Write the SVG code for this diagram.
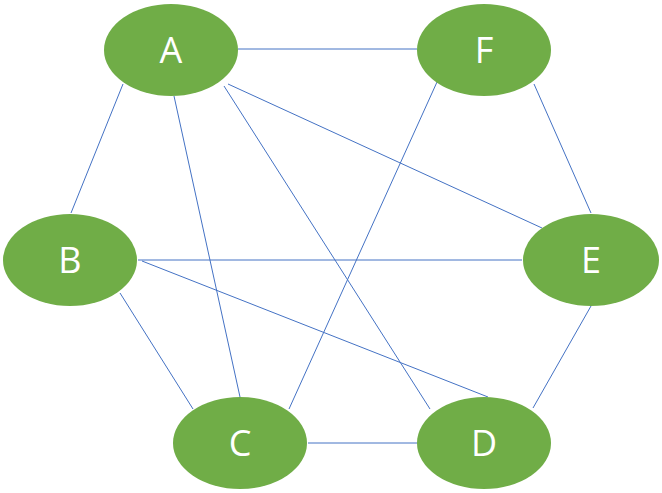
<svg xmlns="http://www.w3.org/2000/svg" width="662" height="493" viewBox="0 0 662 493">
<style>
.n{fill:#70AD47}
.t{font-family:"Open Sans","Noto Sans",sans-serif;font-size:36px;fill:#fff;text-anchor:middle}
.e line{stroke:#4472C4;stroke-width:1}
</style>
<rect width="662" height="493" fill="#fff"/>
<g id="connectors" class="e">
<line x1="238" y1="49" x2="417" y2="49"/>
<line x1="123" y1="84" x2="71" y2="213"/>
<line x1="174" y1="96" x2="240" y2="397"/>
<line x1="224" y1="86" x2="430" y2="409"/>
<line x1="228" y1="84" x2="542" y2="228"/>
<line x1="437" y1="82" x2="289" y2="409"/>
<line x1="534" y1="84" x2="591" y2="213"/>
<line x1="138" y1="260" x2="522" y2="260"/>
<line x1="142" y1="261" x2="488" y2="397"/>
<line x1="120" y1="293" x2="193" y2="409"/>
<line x1="308" y1="443" x2="417" y2="443"/>
<line x1="591" y1="306" x2="533" y2="408"/>
</g>
<g id="A"><ellipse class="n" cx="171" cy="50" rx="67" ry="46"/><text class="t" x="171" y="63">A</text></g>
<g id="F"><ellipse class="n" cx="484" cy="50" rx="67" ry="46"/><text class="t" x="484" y="63">F</text></g>
<g id="B"><ellipse class="n" cx="70" cy="260" rx="67" ry="46"/><text class="t" x="70" y="273">B</text></g>
<g id="E"><ellipse class="n" cx="591" cy="260" rx="68" ry="46"/><text class="t" x="591" y="273">E</text></g>
<g id="C"><ellipse class="n" cx="240" cy="443" rx="67" ry="46"/><text class="t" x="240" y="456">C</text></g>
<g id="D"><ellipse class="n" cx="484" cy="443" rx="67" ry="46"/><text class="t" x="484" y="456">D</text></g>
</svg>
